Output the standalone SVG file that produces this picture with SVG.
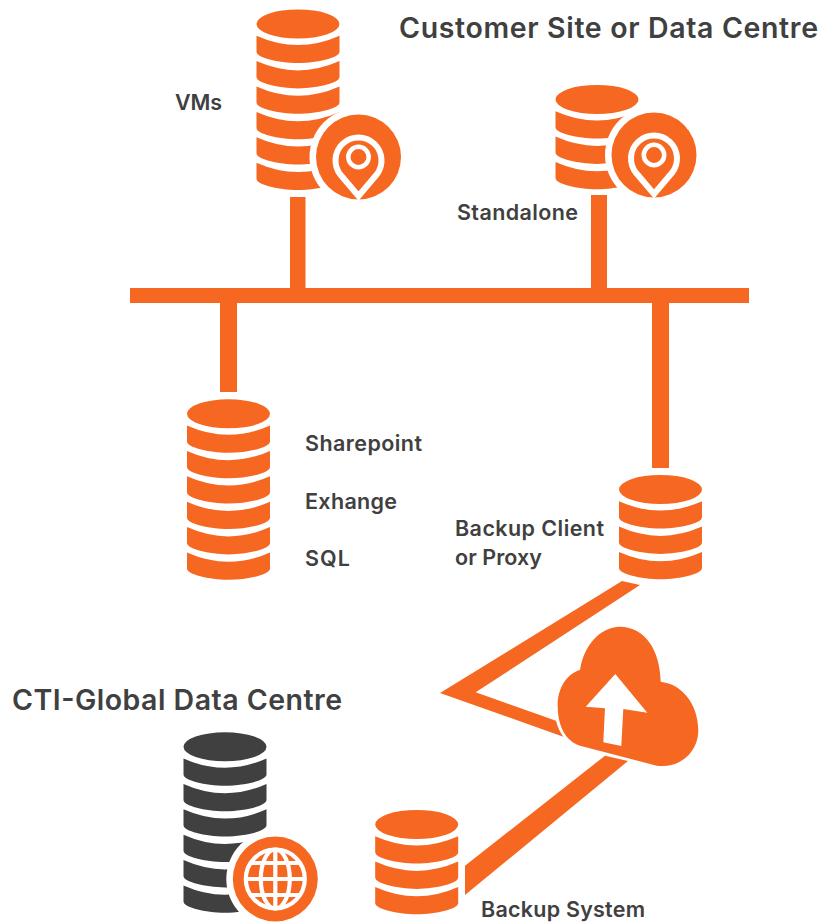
<svg xmlns="http://www.w3.org/2000/svg" xmlns:xlink="http://www.w3.org/1999/xlink" width="830" height="922" viewBox="0 0 830 922">
<style>
.o{fill:#f66821}
.d{fill:#404041}
.w{fill:#fff}
.t{font-family:"Inter","Open Sans",sans-serif;font-weight:600;fill:#404041}
.l{font-size:21.500px}
.h{font-size:28.500px}
.pin{fill:none;stroke:#fff;stroke-width:6}
.gl{fill:none;stroke:#fff;stroke-width:4.2}
</style>
<defs>
<path id="top" d="M-41.5,14.5A41.5,14.5 0 1 1 41.5,14.5A41.5,14.5 0 1 1 -41.5,14.5Z"/>
<path id="seg" d="M-41.5,26.2Q0,44.8 41.5,26.2V42.2C41.5,48 20,53.5 0,53.5C-20,53.5 -41.5,48 -41.5,42.2Z"/>
<g id="s3"><use xlink:href="#top"/><use xlink:href="#seg"/><use xlink:href="#seg" y="25.4"/><use xlink:href="#seg" y="50.8"/></g>
<g id="s6"><use xlink:href="#s3"/><use xlink:href="#seg" y="76.2"/><use xlink:href="#seg" y="101.6"/><use xlink:href="#seg" y="127"/></g>
<g id="pinBadge"><circle r="49" class="w"/><circle r="42.5" class="o"/><path class="pin" d="M0,39L-18,17.8A23,23 0 1 1 18,17.8Z"/><circle r="10.2" fill="none" stroke="#fff" stroke-width="4.500"/></g>
</defs>
<g id="connectors" class="o">
<rect x="130" y="288" width="619" height="15"/>
<rect x="290" y="197" width="15.500" height="92"/>
<rect x="591" y="195" width="16" height="94"/>
<rect x="220" y="302" width="17" height="90"/>
<rect x="652" y="302" width="17" height="166"/>
<path d="M622,581L640,585L475.700,692.300L556,720.700C557.500,727 560,732 563.300,736.700L440,693Z"/>
<path d="M605,755.700L628,761L465,895V865.700Z"/>
</g>
<g id="cloud">
<path class="o" d="M580,745.700L656.700,765.700C680,769 698.500,752 698.300,730C698,704 682,684 660.700,681.700C660,650 645,627 620,626.700C600,627 584,645 580,670C566,674 557,690 557.700,706.700C558,727 566,741 580,745.700Z"/>
<path class="w" d="M615.300,674L647.300,712.700L623.300,709L621.300,746L603.300,742.300L605,708.300L585.700,706.700Z"/>
</g>
<g id="vms" class="o"><use xlink:href="#s6" x="298" y="9.500"/><use xlink:href="#pinBadge" x="358.500" y="157"/></g>
<g id="standalone" class="o"><use xlink:href="#s3" x="597" y="85"/><use xlink:href="#pinBadge" x="654" y="155"/></g>
<g id="sharepoint" class="o"><use xlink:href="#s6" x="228.500" y="399.300"/></g>
<g id="backup-client" class="o"><use xlink:href="#s3" x="660.500" y="475"/></g>
<g id="backup-system" class="o"><use xlink:href="#s3" x="416.700" y="810"/></g>
<g id="cti" class="d"><use xlink:href="#s6" x="225" y="732.300"/>
<circle cx="275.300" cy="879" r="49" class="w"/><circle cx="275.300" cy="879" r="42.500" class="o"/>
<g transform="translate(275.300 879)"><circle r="29.500" class="gl"/><ellipse rx="14.500" ry="29.500" class="gl"/><path class="gl" d="M0,-29.500V29.500M-29.500,0H29.500M-25,-16H25M-25,16H25"/></g></g>
<g id="labels" class="t">
<text class="h" x="399" y="38" textLength="419">Customer Site or Data Centre</text>
<text class="h" x="12" y="710" textLength="330">CTI-Global Data Centre</text>
<text class="l" x="175" y="110" textLength="47">VMs</text>
<text class="l" x="457" y="220" textLength="121">Standalone</text>
<text class="l" x="305" y="451" textLength="117">Sharepoint</text>
<text class="l" x="305" y="509" textLength="92">Exhange</text>
<text class="l" x="305" y="566" textLength="45">SQL</text>
<text class="l" x="455" y="536" textLength="149">Backup Client</text>
<text class="l" x="455" y="565" textLength="87">or Proxy</text>
<text class="l" x="481" y="917" textLength="164">Backup System</text>
</g>
</svg>
